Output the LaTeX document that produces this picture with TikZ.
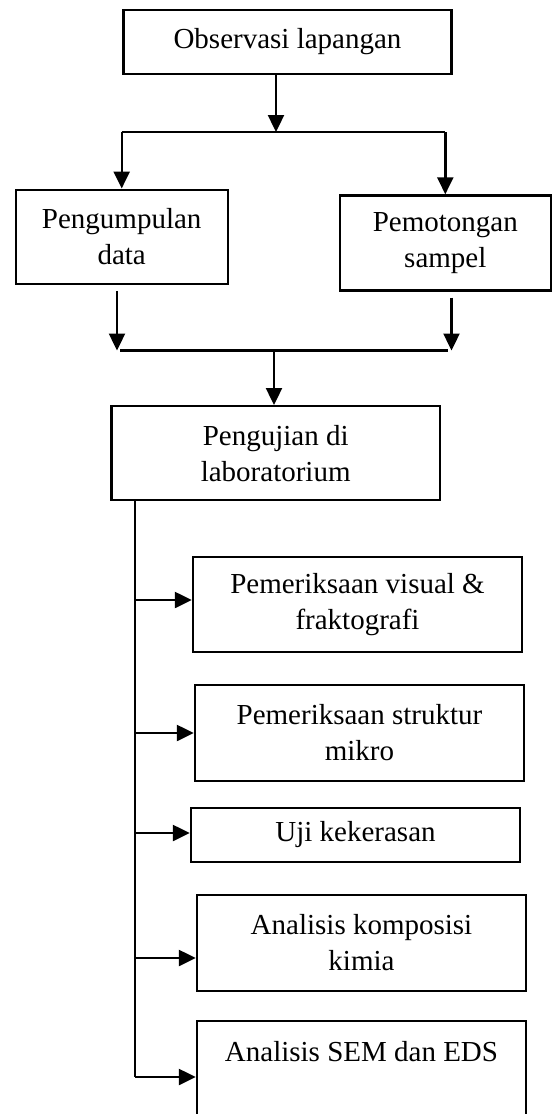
\documentclass[tikz,border=0pt]{standalone}
\usepackage{fontspec}
\setmainfont{Liberation Serif}
\usetikzlibrary{arrows.meta}

\begin{document}
\begin{tikzpicture}[x=1pt,y=-1pt,
  box/.style={draw, line width=2.4pt, align=center, inner sep=0pt,
    minimum width=329pt, font=\fontsize{29}{36}\selectfont},
  arr/.style={line width=2.4pt, -{Triangle[length=17pt,width=16pt]}}]
\clip (0,0) rectangle (553,1114);

% top box
\node[box, minimum width=328pt, minimum height=64pt] (obs) at (287.5,42) {Observasi lapangan};

% the two boxes below it
\node[box, minimum width=212pt, minimum height=94pt] (data) at (121.7,236.7) {Pengumpulan\\data};
\node[box, minimum width=211pt, minimum height=95pt] (sampel) at (445.3,243) {Pemotongan\\sampel};

% split into two
\coordinate (split) at (276,132);
\draw[arr] (obs.south -| split) -- (split);
\draw[line width=2.4pt] (data |- split) -- (sampel |- split);
\draw[arr] (data |- split) -- (data.north);
\draw[arr] (sampel |- split) -- (sampel.north);

% join again
\coordinate (joinL) at (117,350.5);
\coordinate (joinR) at (451.5,350.5);
\coordinate (merge) at (274,350.5);
\draw[arr, shorten <=6pt] (joinL |- data.south) -- (joinL);
\draw[arr, shorten <=6pt] (joinR |- sampel.south) -- (joinR);
\draw[line width=2.4pt] ([xshift=3pt]joinL) -- ([xshift=-4pt]joinR);

% laboratory box
\node[box, minimum width=328.5pt, minimum height=94pt] (lab) at (275.7,453.2) {Pengujian di\\laboratorium};
\draw[arr] (merge) -- (lab.north -| merge);

% tests
\node[box, minimum height=95pt] (visual) at (357.5,604.5) {Pemeriksaan visual \&\\fraktografi};
\node[box, minimum height=96pt] (mikro) at (359.5,733) {Pemeriksaan struktur\\mikro};
\node[box, minimum height=54pt] (keras) at (355.5,835) {Uji kekerasan};
\node[box, minimum height=96pt] (kimia) at (361.5,943) {Analisis komposisi\\kimia};
\node[box, minimum height=96pt] (sem) at (361.5,1069) {Analisis SEM dan EDS\\\mbox{}};

% spine and branches
\coordinate (b1) at (135,600);
\coordinate (b2) at (135,733);
\coordinate (b3) at (135,833);
\coordinate (b4) at (135,958);
\coordinate (b5) at (135,1077);
\draw[line width=2.4pt] (lab.south -| b1) -- (b5);
\draw[arr] (b1) -- (b1 -| visual.west);
\draw[arr] (b2) -- (b2 -| mikro.west);
\draw[arr] (b3) -- (b3 -| keras.west);
\draw[arr] (b4) -- (b4 -| kimia.west);
\draw[arr] (b5) -- (b5 -| sem.west);

\end{tikzpicture}
\end{document}
